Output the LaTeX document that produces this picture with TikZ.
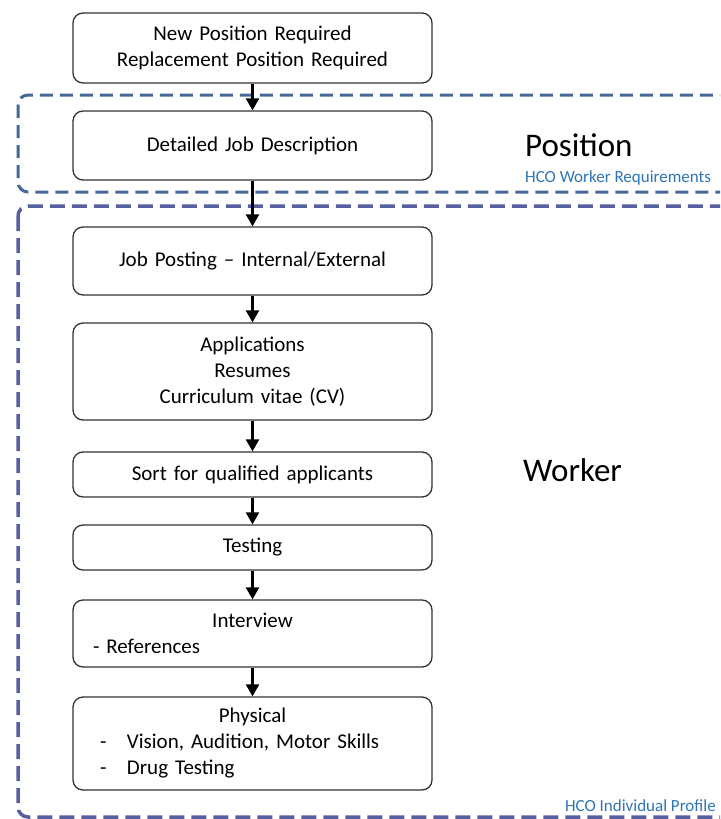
\documentclass[tikz,border=0pt]{standalone}
\usepackage{fontspec}
\setmainfont{Carlito}
\usetikzlibrary{arrows.meta}
\definecolor{posblue}{RGB}{70,104,152}
\definecolor{wrkblue}{RGB}{86,96,160}
\definecolor{hcoblue}{RGB}{46,117,182}
\tikzset{
    stepbox/.style={draw=black!80,line width=1.3pt,rounded corners=10pt,fill=white,
        minimum width=359pt,text width=319pt,inner xsep=20pt,inner ysep=0pt,
        align=center,font=\fontsize{21}{26}\selectfont},
    flow/.style={line width=2.2pt,-{Triangle[width=13pt,length=12pt]}},
    region/.style={line width=3pt,dash pattern=on 13pt off 7pt,rounded corners=10pt},
    bigtag/.style={anchor=west,inner sep=0pt,font=\fontsize{33}{36}\selectfont},
    hcotag/.style={inner sep=0pt,text=hcoblue,font=\fontsize{17}{20}\selectfont}
}
\begin{document}
\begin{tikzpicture}[x=1pt,y=-1pt]
    \useasboundingbox (0,0) rectangle (720,819) ;
    % dashed regions
    \begin{scope}
        \clip (0,0) rectangle (720,819) ;
        \draw[region,color=posblue] (18,95) rectangle (740,192) ;
        \draw[region,color=wrkblue,line width=3.5pt,dash pattern=on 15pt off 7pt] (18,206) rectangle (740,817) ;
    \end{scope}
    \node[bigtag] (postag) at (525,145) {Position} ;
    \node[hcotag,anchor=west] (posreq) at (525,178) {HCO Worker Requirements} ;
    \node[bigtag] (wrktag) at (523,470) {Worker} ;
    \node[hcotag,anchor=east] (wrkprof) at (716,806) {HCO Individual Profile} ;
    % steps
    \node[stepbox,minimum height=70pt] (newpos) at (252.5,48) {New Position Required\\Replacement Position Required} ;
    \node[stepbox,minimum height=69pt] (jobdesc) at (252.5,145.5) {Detailed Job Description} ;
    \node[stepbox,minimum height=68pt] (posting) at (252.5,261) {Job Posting -- Internal/External} ;
    \node[stepbox,minimum height=97pt] (apps) at (252.5,371.5) {Applications\\Resumes\\Curriculum vitae (CV)} ;
    \node[stepbox,minimum height=45pt] (sort) at (252.5,474.5) {Sort for qualified applicants} ;
    \node[stepbox,minimum height=45pt] (testing) at (252.5,547.5) {Testing} ;
    \node[stepbox,minimum height=67pt] (interview) at (252.5,633.5)
        {Interview\\\makebox[\linewidth][l]{- References}} ;
    \node[stepbox,minimum height=93pt] (physical) at (252.5,743.5)
        {Physical\\\makebox[\linewidth][l]{\hspace{7pt}\makebox[27pt][l]{-}Vision, Audition, Motor Skills}\\
         \makebox[\linewidth][l]{\hspace{7pt}\makebox[27pt][l]{-}Drug Testing}} ;
    \draw[flow] (newpos) -- (jobdesc) ;
    \draw[flow] (jobdesc) -- (posting) ;
    \draw[flow] (posting) -- (apps) ;
    \draw[flow] (apps) -- (sort) ;
    \draw[flow] (sort) -- (testing) ;
    \draw[flow] (testing) -- (interview) ;
    \draw[flow] (interview) -- (physical) ;
\end{tikzpicture}
\end{document}
